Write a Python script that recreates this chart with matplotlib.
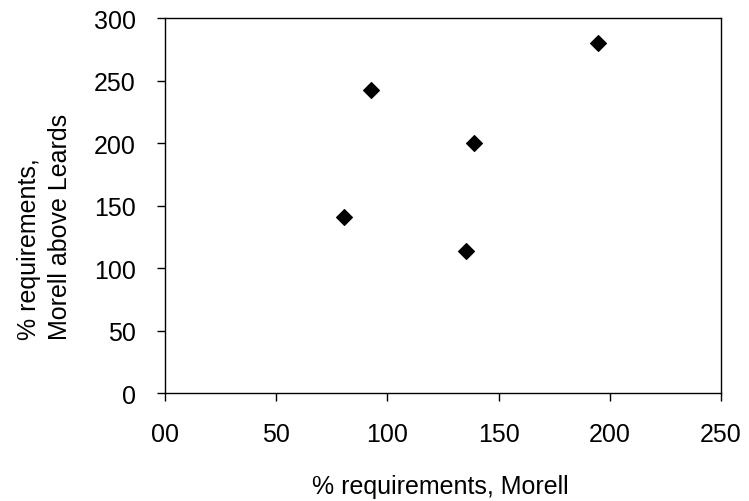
import matplotlib
matplotlib.use("Agg")
import matplotlib.pyplot as plt

plt.rcParams['font.family'] = ['Liberation Sans', 'DejaVu Sans']

# % requirements, Morell vs Morell above Leards
morell = [80.3, 92.6, 138.9, 135.4, 194.9]
morell_above_leards = [141.3, 242.9, 200.2, 113.6, 280.5]

x_ticks = [0, 50, 100, 150, 200, 250]
x_tick_labels = ["00", "50", "100", "150", "200", "250"]
y_ticks = [0, 50, 100, 150, 200, 250, 300]

fig = plt.figure(figsize=(7.49, 5.02), dpi=100)
ax = fig.add_axes([165/749, 1-394.3/502, (721-165)/749, (394.3-19.3)/502])

ax.plot(morell, morell_above_leards, linestyle="none", marker="D",
        markersize=8.3, color="black", markeredgewidth=0.8)

ax.set_xlim(0, 250)
ax.set_ylim(0, 300)
ax.set_xticks(x_ticks)
ax.set_xticklabels(x_tick_labels)
ax.set_yticks(y_ticks)

ax.tick_params(direction="out", length=6, width=1, labelsize=18, color="black")
ax.tick_params(axis="x", pad=15)
ax.tick_params(axis="y", pad=15)
for s in ax.spines.values():
    s.set_linewidth(1.0)
    s.set_color("black")

ax.set_xlabel("% requirements, Morell", fontsize=18)
ax.xaxis.set_label_coords(0.495, -0.215)
ax.set_ylabel("% requirements,\nMorell above Leards", fontsize=18,
              linespacing=1.35, multialignment="left")
ax.yaxis.set_label_coords(-0.167, 0.447)

fig.savefig("out.png", dpi=100)
